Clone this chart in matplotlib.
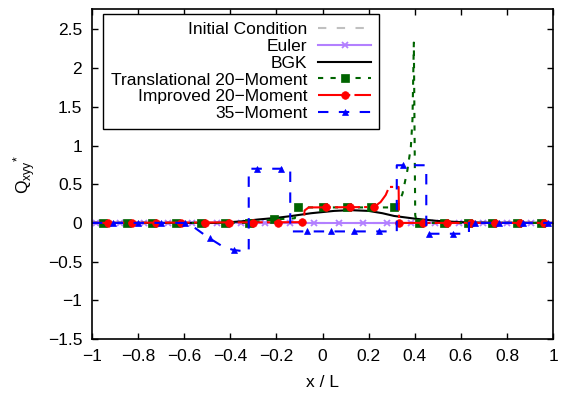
import numpy as np
import matplotlib
matplotlib.use('Agg')
import matplotlib.pyplot as plt
from matplotlib.lines import Line2D

plt.rcParams['font.family'] = ['Liberation Sans', 'DejaVu Sans']
plt.rcParams['font.size'] = 12.5

# Initial condition and Euler (flat at zero)
ic_x = [-1.0, 1.0]
ic_y = [0.0, 0.0]
euler_x = [-1.0, 1.0]
euler_y = [0.0, 0.0]
euler_mx = [-0.983, -0.878, -0.774, -0.67, -0.565, -0.457, -0.352, -0.248, -0.139,
            -0.035, 0.07, 0.174, 0.278, 0.383, 0.487, 0.591, 0.696, 0.8, 0.904]
euler_my = [0.0] * len(euler_mx)

# BGK
bgk_x = [-1.0, -0.45, -0.35, -0.28, -0.2, -0.14, -0.05, 0.05, 0.12, 0.2, 0.26, 0.31,
         0.4, 0.5, 0.6, 0.7, 1.0]
bgk_y = [0.0, 0.0, 0.02, 0.044, 0.065, 0.087, 0.125, 0.155, 0.165, 0.155, 0.125, 0.09,
         0.055, 0.025, 0.01, 0.003, 0.0]

# Translational 20-moment
tr20_x = [-1.0, -0.32, -0.21, -0.12, -0.11, 0.31, 0.33, 0.347, 0.368, 0.383, 0.39,
          0.396, 0.402, 0.41, 1.0]
tr20_y = [0.0, 0.0, 0.045, 0.06, 0.2, 0.2, 0.25, 0.38, 0.68, 0.98, 1.33,
          2.33, 0.1, 0.0, 0.0]
tr20_mx = [-0.951, -0.846, -0.74, -0.635, -0.529, -0.424, -0.318, -0.212, -0.107, 0.0,
           0.105, 0.21, 0.31, 0.418, 0.526, 0.632, 0.737, 0.842, 0.948]
tr20_my = [0, 0, 0, 0, 0, 0, 0, 0.045, 0.2, 0.2, 0.2, 0.2, 0.2, 0, 0, 0, 0, 0, 0]

# Improved 20-moment
im20_x = [-1.0, -0.08, -0.078, -0.06, 0.223, 0.252, 0.274, 0.289, 0.33, 0.332, 1.0]
im20_y = [0.0, 0.01, 0.16, 0.2, 0.205, 0.27, 0.36, 0.465, 0.465, 0.0, 0.0]
im20_mx = [-0.93, -0.825, -0.72, -0.615, -0.51, -0.405, -0.3, -0.195, -0.09, 0.016,
           0.12, 0.223, 0.332, 0.435, 0.54, 0.645, 0.75, 0.855, 0.96]
im20_my = [0, 0, 0, 0, 0, 0, 0, 0, 0.01, 0.2, 0.2, 0.205, 0, 0, 0, 0, 0, 0, 0]

# 35-moment
m35_x = [-1.0, -0.59, -0.56, -0.5, -0.43, -0.386, -0.33, -0.32, -0.32, -0.14, -0.14,
         0.322, 0.322, 0.45, 0.45, 0.635, 0.635, 1.0]
m35_y = [0.0, 0.0, -0.05, -0.18, -0.31, -0.35, -0.37, -0.37, 0.70, 0.70, -0.11,
         -0.11, 0.745, 0.745, -0.14, -0.14, 0.0, 0.0]
m35_mx = [-0.907, -0.80, -0.70, -0.595, -0.49, -0.386, -0.284, -0.178, -0.067, 0.035,
          0.136, 0.245, 0.35, 0.46, 0.564, 0.66, 0.765, 0.87, 0.977]
m35_my = [0, 0, 0, 0, -0.2, -0.35, 0.70, 0.70, -0.11, -0.11, -0.11, -0.11, 0.745,
          -0.14, -0.14, 0, 0, 0, 0]

fig = plt.figure(figsize=(5.64, 3.94), dpi=100)
ax = fig.add_axes([0.163, 0.1396, 0.8177, 0.8368])

lw = 1.5
styles = [
    # label, x, y, mx, my, color, dashes, marker, ms
    ('Initial Condition', ic_x, ic_y, None, None, '#c0c0c0', (0, (4, 5)), None, 0),
    ('Euler', euler_x, euler_y, euler_mx, euler_my, '#b380ff', '-', 'x', 5),
    ('BGK', bgk_x, bgk_y, None, None, 'black', '-', None, 0),
    ('Translational 20\u2212Moment', tr20_x, tr20_y, tr20_mx, tr20_my, '#006400',
     (0, (2.5, 3.5)), 's', 6),
    ('Improved 20\u2212Moment', im20_x, im20_y, im20_mx, im20_my, '#ff0000',
     (0, (12, 2, 1.5, 2)), 'o', 5.5),
    ('35\u2212Moment', m35_x, m35_y, m35_mx, m35_my, '#0000ff', (0, (5, 5)), '^', 5),
]

handles = []
for label, x, y, mx, my, c, ls, mk, ms in styles:
    ax.plot(x, y, color=c, linestyle=ls, linewidth=lw)
    if mx is not None:
        ax.plot(mx, my, linestyle='none', marker=mk, color=c, markersize=ms,
                markeredgewidth=1.3 if mk == 'x' else 0.5)
    handles.append(Line2D([], [], color=c, linestyle=ls, linewidth=lw, marker=mk,
                          markersize=ms, markeredgewidth=1.3 if mk == 'x' else 0.5,
                          label=label))

ax.set_xlim(-1, 1)
ax.set_ylim(-1.5, 2.76)
ax.set_xticks(np.arange(-1, 1.01, 0.2))
ax.set_xticklabels(['\u22121', '\u22120.8', '\u22120.6', '\u22120.4', '\u22120.2', '0',
                    '0.2', '0.4', '0.6', '0.8', '1'])
ax.set_yticks(np.arange(-1.5, 2.51, 0.5))
ax.set_yticklabels(['\u22121.5', '\u22121', '\u22120.5', '0', '0.5', '1', '1.5', '2', '2.5'])
ax.tick_params(direction='in', top=True, right=True, length=4, width=1, pad=7)
for s in ax.spines.values():
    s.set_linewidth(1.2)

ax.set_xlabel('x / L', labelpad=8)
ax.set_ylabel(r'$\mathregular{Q_{xyy}{}^{*}}$', labelpad=7)

leg = ax.legend(handles=handles, loc='upper left', bbox_to_anchor=(0.024, 0.986),
                borderaxespad=0, markerfirst=False, numpoints=1, handlelength=3.1,
                handletextpad=0.6, labelspacing=0.1, borderpad=0.45, fancybox=False,
                framealpha=1, edgecolor='black')
leg.get_frame().set_linewidth(1.0)

fig.savefig('out.png', dpi=100)
